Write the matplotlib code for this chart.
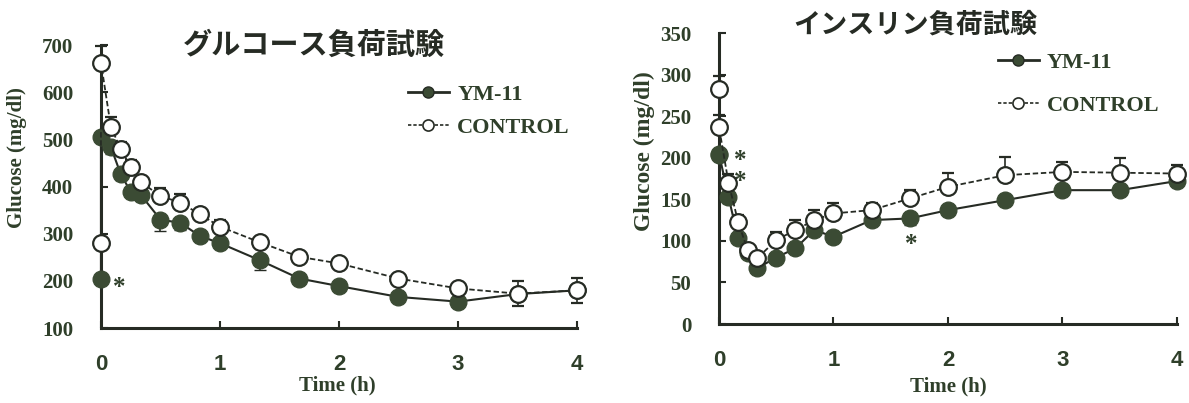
import matplotlib.pyplot as plt
from matplotlib.lines import Line2D

TXT = "#2f3f2a"
DARK = "#262b24"
FILL = "#3b4b34"
SERIF = ["Liberation Serif", "DejaVu Serif"]
SANS = ["Liberation Sans", "DejaVu Sans"]
CJK = ["Noto Sans CJK JP", "DejaVu Sans"]

# glucose tolerance test
gtt_t = [0, 0, 0.083, 0.167, 0.25, 0.333, 0.5, 0.667, 0.833, 1.0, 1.333, 1.667, 2, 2.5, 3, 3.5, 4]
gtt_ym = [205, 506, 484, 426, 389, 383, 330, 323, 295, 280, 244, 205, 189, 166, 156, 172, 180]
gtt_ym_err = [0, 0, 15, 12, 10, 10, 25, 15, 10, 10, 20, 10, 8, 8, 8, 10, 10]
gtt_ctrl = [280, 663, 527, 479, 442, 410, 380, 366, 341, 315, 282, 251, 237, 205, 184, 173, 180]
gtt_ctrl_lo = [0, 0, 0, 0, 0, 0, 0, 0, 0, 0, 0, 0, 0, 0, 0, 26, 26]
gtt_ctrl_hi = [5, 35, 20, 15, 15, 10, 18, 18, 12, 15, 10, 8, 8, 8, 8, 26, 26]

# insulin tolerance test
itt_t = [0, 0, 0.083, 0.167, 0.25, 0.333, 0.5, 0.667, 0.833, 1.0, 1.333, 1.667, 2, 2.5, 3, 3.5, 4]
itt_ym = [203, 205, 153, 103, 85, 67, 80, 91, 113, 105, 125, 127, 137, 149, 161, 161, 172]
itt_ym_err = [0, 0, 8, 6, 5, 5, 6, 6, 6, 6, 6, 8, 6, 6, 6, 6, 6]
itt_ctrl = [283, 237, 170, 123, 89, 79, 101, 113, 125, 133, 137, 151, 165, 179, 183, 182, 181]
itt_ctrl_lo = [0] * 17
itt_ctrl_hi = [15, 15, 10, 8, 6, 6, 10, 12, 12, 12, 8, 10, 17, 22, 12, 18, 10]

gtt_stars = [(0.1, 185)]
itt_stars = [(0.13, 197), (0.13, 172), (1.62, 96)]

fig = plt.figure(figsize=(11.89, 4.03), dpi=100)
ax1 = fig.add_axes([0.0849, 0.186, 0.4004, 0.702])
ax2 = fig.add_axes([0.6047, 0.196, 0.3852, 0.722])


def draw(ax, t, ym, ym_err, ctrl, ctrl_lo, ctrl_hi, stars, ylim, yticks):
    ax.errorbar(t, ym, yerr=[ym_err, [0] * len(ym_err)], color=DARK, ls="-", lw=1.5,
                marker="o", ms=12, mfc=FILL, mec=FILL, mew=1,
                capsize=4, elinewidth=1.2, capthick=1.2, clip_on=False,
                zorder=3, label="YM-11")
    ax.errorbar(t, ctrl, yerr=[ctrl_lo, ctrl_hi], color=DARK, ls=(0, (3, 1.5)), lw=1.3,
                marker="o", ms=12, mfc="white", mec=DARK, mew=1.6,
                capsize=4, elinewidth=1.2, capthick=1.2, clip_on=False,
                zorder=4, label="CONTROL")
    for x, y in stars:
        ax.text(x, y, "*", fontsize=18, fontweight="bold", color=TXT,
                family=SERIF, ha="left", va="center")
    ax.set_xlim(0, 4)
    ax.set_ylim(*ylim)
    ax.set_xticks([0, 1, 2, 3, 4])
    ax.set_yticks(yticks)
    for s in ["top", "right"]:
        ax.spines[s].set_visible(False)
    for s in ["left", "bottom"]:
        ax.spines[s].set_linewidth(2.2)
        ax.spines[s].set_color(DARK)
    ax.tick_params(axis="both", direction="in", length=5, width=1.5, color=DARK)
    ax.tick_params(axis="x", pad=19)
    ax.tick_params(axis="y", pad=20)
    for lab in ax.get_xticklabels():
        lab.set_family(SANS)
        lab.set_fontweight("bold")
        lab.set_fontsize(16)
        lab.set_color(TXT)
    for lab in ax.get_yticklabels():
        lab.set_family(SERIF)
        lab.set_fontweight("bold")
        lab.set_fontsize(15)
        lab.set_color(TXT)
    ax.set_xlabel("Time (h)", family=SERIF, fontweight="bold", fontsize=15, color=TXT)


draw(ax1, gtt_t, gtt_ym, gtt_ym_err, gtt_ctrl, gtt_ctrl_lo, gtt_ctrl_hi, gtt_stars,
     (100, 700), [100, 200, 300, 400, 500, 600, 700])
draw(ax2, itt_t, itt_ym, itt_ym_err, itt_ctrl, itt_ctrl_lo, itt_ctrl_hi, itt_stars,
     (0, 350), [0, 50, 100, 150, 200, 250, 300, 350])

ax1.set_ylabel("Glucose (mg/dl)", family=SERIF, fontweight="bold", fontsize=15, color=TXT)
ax2.set_ylabel("Glucose (mg/dl)", family=SERIF, fontweight="bold", fontsize=17, color=TXT)
ax1.xaxis.set_label_coords(0.496, -0.168)
ax2.xaxis.set_label_coords(0.5, -0.182)
ax1.yaxis.set_label_coords(-0.155, 0.604)
ax2.yaxis.set_label_coords(-0.14, 0.594)

fig.text(0.264, 0.888, "グルコース負荷試験", family=CJK, fontweight="bold",
         fontsize=21, color=DARK, ha="center", va="center")
fig.text(0.7696, 0.938, "インスリン負荷試験", family=CJK, fontweight="bold",
         fontsize=19.5, color=DARK, ha="center", va="center")


def legend(anchor, spacing):
    hs = [Line2D([], [], color=DARK, lw=2.0, marker="o", ms=8, mfc=FILL, mec=DARK),
          Line2D([], [], color=DARK, lw=1.2, ls=(0, (2, 1.2)), marker="o", ms=8,
                 mfc="white", mec=DARK, mew=1.2)]
    leg = fig.legend(hs, ["YM-11", "CONTROL"], loc="upper left", bbox_to_anchor=anchor,
                     frameon=False, handlelength=1.85, handletextpad=0.37,
                     labelspacing=spacing, borderpad=0, borderaxespad=0,
                     prop={"family": SERIF, "weight": "bold", "size": 16})
    for tx in leg.get_texts():
        tx.set_color(TXT)


legend((0.343, 0.791), 0.55)
legend((0.839, 0.870), 1.0)

fig.savefig("out.png", dpi=100)
